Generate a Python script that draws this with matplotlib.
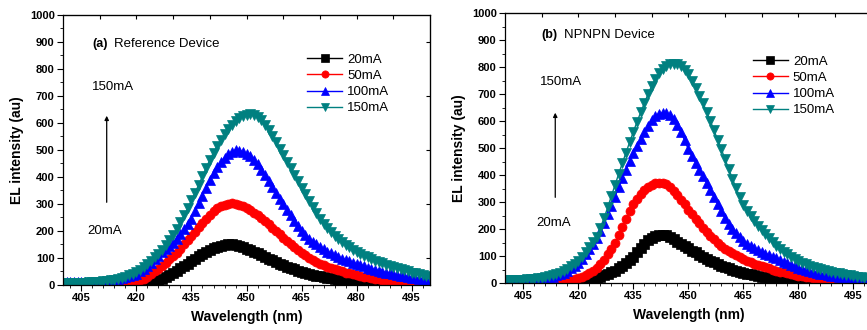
import numpy as np
import matplotlib
matplotlib.use('Agg')
import matplotlib.pyplot as plt
from matplotlib.ticker import MultipleLocator

plt.rcParams['font.family'] = ['Liberation Sans', 'DejaVu Sans']

wavelength = np.arange(400, 501)
labels = ['20mA', '50mA', '100mA', '150mA']

# (a) reference device
ref_20 = [0, 0, 0, 0, 0, 0, 0, 0, 0, 0,
          0, 0, 0, 0, 0, 0, 0, 0, 1, 1,
          2, 4, 5, 7, 10, 12, 17, 22, 28, 36,
          45, 53, 62, 70, 79, 88, 97, 106, 114, 122,
          130, 136, 141, 145, 148, 150, 150, 148, 145, 141,
          135, 129, 123, 117, 110, 104, 98, 92, 85, 79,
          73, 68, 63, 58, 53, 49, 45, 42, 38, 35,
          32, 30, 27, 25, 22, 20, 18, 16, 14, 12,
          10, 9, 7, 6, 5, 4, 3, 2, 2, 1,
          1, 0, 0, 0, 0, 0, 0, 0, 0, 0,
          0]
ref_50 = [0, 0, 0, 0, 0, 0, 0, 0, 0, 0,
          0, 0, 0, 0, 1, 2, 4, 6, 8, 10,
          13, 18, 24, 31, 40, 50, 60, 71, 83, 95,
          108, 120, 135, 150, 165, 180, 196, 213, 229, 245,
          260, 273, 284, 292, 298, 301, 302, 300, 296, 291,
          284, 277, 268, 259, 248, 237, 225, 212, 200, 187,
          175, 163, 151, 140, 129, 119, 110, 101, 93, 86,
          79, 73, 68, 63, 58, 54, 50, 46, 43, 40,
          37, 34, 31, 29, 26, 24, 22, 20, 18, 17,
          15, 13, 12, 10, 9, 8, 7, 6, 5, 4,
          4]
ref_100 = [10, 10, 10, 10, 10, 10, 10, 10, 11, 11,
           12, 13, 15, 17, 19, 22, 25, 29, 33, 37,
           42, 50, 60, 71, 83, 95, 108, 121, 133, 144,
           155, 170, 187, 206, 225, 245, 273, 302, 331, 361,
           390, 415, 437, 456, 472, 485, 494, 500, 498, 493,
           486, 476, 463, 448, 427, 406, 385, 363, 341, 320,
           299, 278, 258, 238, 219, 200, 186, 172, 160, 150,
           140, 132, 124, 117, 110, 103, 98, 93, 88, 83,
           78, 73, 69, 64, 60, 56, 53, 49, 46, 43,
           40, 37, 35, 32, 30, 27, 25, 23, 21, 19,
           17]
ref_150 = [8, 8, 8, 8, 9, 9, 9, 10, 10, 11,
           12, 13, 15, 17, 19, 22, 26, 31, 36, 42,
           48, 56, 66, 77, 89, 102, 116, 131, 148, 166,
           186, 208, 232, 258, 285, 313, 342, 372, 403, 434,
           463, 490, 515, 538, 558, 576, 592, 606, 617, 625,
           630, 632, 629, 622, 610, 594, 575, 553, 529, 504,
           480, 456, 432, 408, 384, 360, 336, 312, 288, 265,
           243, 226, 210, 196, 182, 170, 159, 149, 140, 131,
           123, 116, 109, 102, 96, 90, 85, 80, 75, 70,
           66, 62, 58, 54, 50, 46, 43, 40, 37, 34,
           31]

# (b) NPNPN device
npn_20 = [0, 0, 0, 0, 0, 0, 0, 0, 0, 0,
          0, 0, 0, 0, 0, 0, 1, 1, 2, 3,
          5, 7, 9, 12, 15, 18, 22, 28, 33, 39,
          45, 54, 64, 75, 86, 97, 113, 130, 146, 158,
          168, 175, 179, 179, 176, 170, 162, 153, 145, 136,
          128, 120, 113, 105, 98, 90, 83, 77, 70, 64,
          58, 54, 50, 45, 41, 37, 34, 32, 29, 27,
          24, 22, 20, 19, 17, 15, 14, 12, 11, 9,
          8, 7, 6, 5, 5, 4, 3, 2, 2, 1,
          1, 1, 0, 0, 0, 0, 0, 0, 0, 0,
          0]
npn_50 = [0, 0, 0, 0, 0, 0, 0, 0, 0, 0,
          0, 0, 0, 1, 2, 3, 5, 7, 10, 13,
          17, 22, 29, 37, 46, 55, 70, 87, 106, 127,
          148, 177, 207, 238, 266, 292, 312, 330, 344, 356,
          364, 369, 372, 371, 365, 355, 342, 326, 309, 291,
          272, 255, 238, 221, 204, 188, 175, 162, 150, 138,
          127, 119, 111, 102, 95, 88, 83, 77, 72, 67,
          62, 58, 54, 50, 46, 42, 39, 36, 33, 30,
          27, 25, 23, 21, 19, 17, 15, 14, 12, 11,
          10, 9, 7, 6, 5, 4, 3, 2, 2, 1,
          1]
npn_100 = [10, 10, 10, 10, 11, 11, 11, 12, 13, 14,
           16, 18, 21, 24, 28, 32, 38, 46, 54, 64,
           75, 90, 107, 125, 145, 165, 192, 222, 254, 287,
           320, 355, 388, 420, 451, 480, 507, 533, 558, 582,
           605, 618, 627, 630, 628, 622, 606, 584, 558, 528,
           495, 470, 445, 420, 395, 370, 344, 318, 292, 266,
           240, 220, 200, 184, 169, 155, 146, 138, 130, 122,
           115, 109, 103, 97, 91, 85, 79, 74, 68, 63,
           57, 53, 49, 45, 41, 38, 35, 32, 30, 27,
           25, 23, 21, 19, 17, 15, 14, 12, 11, 9,
           8]
npn_150 = [10, 10, 10, 11, 11, 12, 13, 14, 16, 18,
           20, 22, 25, 28, 33, 38, 45, 53, 62, 72,
           82, 96, 113, 132, 152, 172, 205, 240, 280, 322,
           363, 404, 444, 483, 522, 560, 597, 632, 666, 699,
           730, 755, 776, 793, 803, 810, 812, 810, 802, 790,
           775, 750, 723, 694, 665, 635, 600, 565, 530, 495,
           459, 423, 387, 352, 320, 290, 268, 248, 229, 212,
           195, 180, 165, 151, 138, 125, 115, 106, 96, 88,
           80, 75, 70, 64, 59, 55, 51, 48, 44, 41,
           38, 36, 33, 31, 28, 26, 24, 22, 20, 19,
           17]

colors = ['black', '#ff0000', '#0000ff', '#008080']
markers = ['s', 'o', '^', 'v']

fig = plt.figure(figsize=(8.67, 3.30), dpi=100)
ax_a = fig.add_axes([0.0727, 0.1364, 0.4233, 0.8182])
ax_b = fig.add_axes([0.5825, 0.1424, 0.4229, 0.8182])

panels = [
    (ax_a, [ref_20, ref_50, ref_100, ref_150], '(a)', 'Reference Device',
     (408.1, 893), (413.9, 893), (407.9, 733), (406.5, 200), (411.9, 296, 637),
     (0.666, 0.857), [100, 300, 500, 700, 900]),
    (ax_b, [npn_20, npn_50, npn_100, npn_150], '(b)', 'NPNPN Device',
     (410.0, 918), (416.1, 918), (409.5, 744), (408.5, 222), (413.7, 307, 641),
     (0.677, 0.842), [200, 400, 600, 800]),
]

for (ax, series, tag, title, tag_xy, title_xy, hi_xy, lo_xy, arrow,
     leg_xy, right_ticks) in panels:
    for vals, c, m, lab in zip(series, colors, markers, labels):
        ax.plot(wavelength, vals, color=c, marker=m, markersize=6.5,
                markeredgewidth=0.5, linewidth=1, label=lab)

    ax.set_xlim(400, 500)
    ax.set_ylim(0, 1000)
    ax.set_xticks(range(405, 500, 15))
    ax.set_yticks(range(0, 1001, 100))
    ax.xaxis.set_minor_locator(MultipleLocator(3))
    ax.yaxis.set_minor_locator(MultipleLocator(50))
    ax.tick_params(which='major', direction='out', length=4, width=0.8,
                   labelsize=8, pad=2)
    ax.tick_params(which='minor', direction='out', length=2, width=0.6)
    for lbl in ax.get_xticklabels() + ax.get_yticklabels():
        lbl.set_fontweight('bold')
    for sp in ax.spines.values():
        sp.set_linewidth(0.9)

    top = ax.secondary_xaxis('top')
    top.set_xticks(range(410, 500, 10))
    top.tick_params(direction='in', length=3, width=0.8, labeltop=False)
    right = ax.secondary_yaxis('right')
    right.set_yticks(right_ticks)
    right.tick_params(direction='in', length=3, width=0.8, labelright=False)

    ax.set_xlabel('Wavelength (nm)', fontsize=10, fontweight='bold', labelpad=5)
    ax.set_ylabel('EL intensity (au)', fontsize=10, fontweight='bold', labelpad=4)

    ax.text(tag_xy[0], tag_xy[1], tag, fontsize=9, fontweight='bold',
            va='center', ha='left')
    ax.text(title_xy[0], title_xy[1], title, fontsize=9.5, va='center', ha='left')
    ax.text(hi_xy[0], hi_xy[1], '150mA', fontsize=9.5, va='center', ha='left')
    ax.text(lo_xy[0], lo_xy[1], '20mA', fontsize=9.5, va='center', ha='left')
    ax.annotate('', xy=(arrow[0], arrow[2]), xytext=(arrow[0], arrow[1]),
                arrowprops=dict(arrowstyle='-|>', color='black', lw=0.9,
                                mutation_scale=6))

    ax.legend(loc='upper left', bbox_to_anchor=leg_xy, frameon=False,
              fontsize=9.5, handlelength=2.6, handletextpad=0.4,
              labelspacing=0.3, borderpad=0, borderaxespad=0, numpoints=1,
              markerscale=0.8)

fig.savefig('out.png', dpi=100)
